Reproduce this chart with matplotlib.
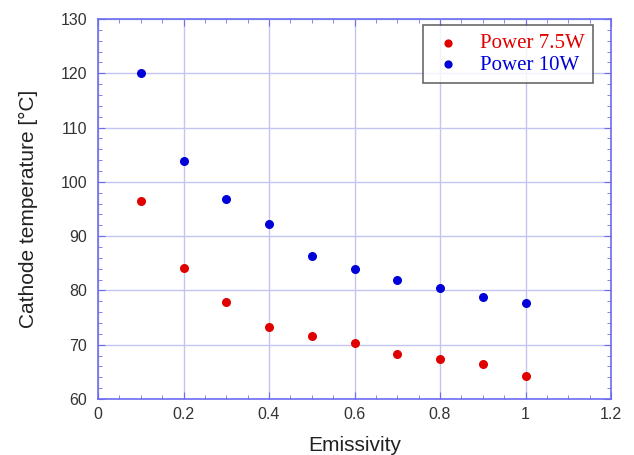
import matplotlib
matplotlib.use('Agg')
import matplotlib.pyplot as plt
from matplotlib.ticker import MultipleLocator

# emissivity vs cathode temperature for two input powers
emissivity = [0.1, 0.2, 0.3, 0.4, 0.5, 0.6, 0.7, 0.8, 0.9, 1.0]
temp_7_5w = [96.5, 84.2, 77.8, 73.2, 71.6, 70.3, 68.3, 67.3, 66.5, 64.3]
temp_10w = [120.0, 103.9, 96.8, 92.3, 86.4, 84.0, 81.9, 80.4, 78.7, 77.6]
xtick_vals = [0, 0.2, 0.4, 0.6, 0.8, 1.0, 1.2]
xtick_text = ['0', '0.2', '0.4', '0.6', '0.8', '1', '1.2']

plt.rcParams['font.family'] = ['Liberation Sans', 'DejaVu Sans']

fig = plt.figure(figsize=(6.34, 4.55), dpi=100)
ax = fig.add_axes([98 / 634, 1 - 399 / 455, 513 / 634, 380 / 455])

ax.scatter(emissivity, temp_7_5w, s=30, color='#e00000', zorder=3, label='Power 7.5W')
ax.scatter(emissivity, temp_10w, s=30, color='#0000d8', zorder=3, label='Power 10W')

ax.set_xlim(0, 1.2)
ax.set_ylim(60, 130)
ax.set_xticks(xtick_vals)
ax.set_xticklabels(xtick_text)
ax.xaxis.set_minor_locator(MultipleLocator(0.05))
ax.yaxis.set_major_locator(MultipleLocator(10))
ax.yaxis.set_minor_locator(MultipleLocator(2))

spine_col = '#6c6cf0'
for s in ax.spines.values():
    s.set_color(spine_col)
    s.set_linewidth(1.2)
ax.tick_params(which='both', direction='in', top=True, right=True, color=spine_col,
               labelcolor='#333333', labelsize=11.5)
ax.tick_params(which='major', length=5)
ax.tick_params(axis='y', which='major', pad=8)
ax.tick_params(axis='x', which='major', pad=6)
ax.tick_params(which='minor', length=3)
ax.grid(True, which='major', color='#c4c4f2', linewidth=1.0, zorder=0)

ax.set_xlabel('Emissivity', fontsize=15, color='#222222', labelpad=10)
ax.set_ylabel('Cathode temperature [°C]', fontsize=15, color='#222222', labelpad=16)

leg = ax.legend(loc='upper right', bbox_to_anchor=(0.9645, 0.984), frameon=True, fancybox=False,
                prop={'family': 'Liberation Serif', 'size': 15}, handletextpad=0.7,
                labelspacing=0.1, borderpad=0.4, borderaxespad=0.0, handlelength=1.6,
                markerscale=0.9)
leg.get_frame().set_edgecolor('#444444')
leg.get_frame().set_linewidth(1.2)
leg.get_texts()[0].set_color('#e00000')
leg.get_texts()[1].set_color('#0000d8')

fig.savefig('out.png', dpi=100)
